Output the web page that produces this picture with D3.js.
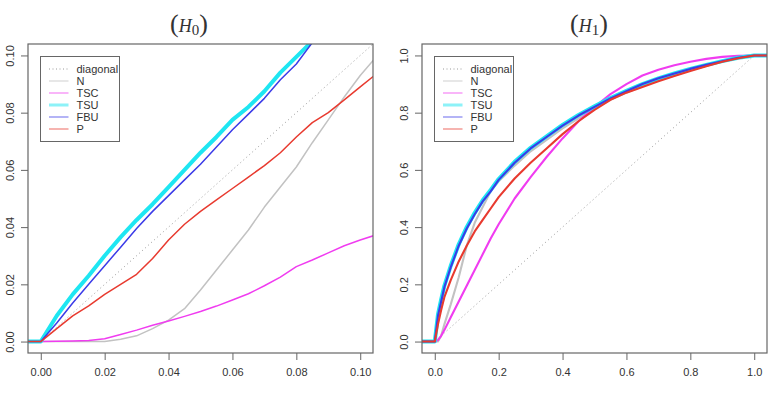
<!DOCTYPE html>
<html>
<head>
<meta charset="utf-8">
<script src="https://cdn.jsdelivr.net/npm/d3@7"></script>
<style>
  body { margin: 0; background: #fff; }
  svg text { font-family: "Liberation Sans", Arial, sans-serif; fill: #333; }
</style>
</head>
<body>
<svg id="chart" width="772" height="394"></svg>
<script>
// H0 panel
var h0Grid = [-0.01, 0, 0.005, 0.01, 0.015, 0.02, 0.025, 0.03, 0.035, 0.04, 0.045, 0.05, 0.055,
  0.06, 0.065, 0.07, 0.075, 0.08, 0.085, 0.09, 0.095, 0.1, 0.105];
var h0N = [0, 0, 0, 0, 0, 0, 0.0008, 0.002, 0.0045, 0.0075, 0.0115, 0.018, 0.025,
  0.032, 0.039, 0.047, 0.054, 0.061, 0.0695, 0.0775, 0.0855, 0.093, 0.0995];
var h0TSC = [0, 0, 0.0001, 0.0002, 0.0004, 0.001, 0.0025, 0.004, 0.0057, 0.0072, 0.0088, 0.0105, 0.0124,
  0.0145, 0.0167, 0.0195, 0.0225, 0.0262, 0.0285, 0.031, 0.0335, 0.0355, 0.0373];
var h0TSU = [0, 0, 0.009, 0.0165, 0.023, 0.030, 0.0365, 0.0425, 0.048, 0.054, 0.060, 0.066, 0.0715,
  0.0775, 0.082, 0.0875, 0.094, 0.0995, 0.105, 0.111, null, null, null];
var h0FBU = [0, 0, 0.0065, 0.0135, 0.020, 0.0265, 0.033, 0.0395, 0.0455, 0.051, 0.0565, 0.062, 0.068,
  0.074, 0.0795, 0.085, 0.0915, 0.097, 0.1045, 0.11, null, null, null];
var h0P = [0, 0, 0.0045, 0.009, 0.0125, 0.0165, 0.020, 0.0235, 0.029, 0.0355, 0.041, 0.0455, 0.0495,
  0.0535, 0.0575, 0.0615, 0.066, 0.0715, 0.0765, 0.080, 0.0845, 0.089, 0.0935];

// H1 panel
var h1Grid = [-0.1, 0, 0.01, 0.02, 0.03, 0.05, 0.075, 0.1, 0.125, 0.15, 0.175, 0.2, 0.25, 0.3, 0.35,
  0.4, 0.45, 0.5, 0.55, 0.6, 0.65, 0.7, 0.75, 0.8, 0.85, 0.9, 0.95, 1.0, 1.1];
var h1N = [0, 0, 0, 0.02, 0.06, 0.13, 0.225, 0.335, 0.415, 0.47, 0.525, 0.56, 0.615, 0.665, 0.705,
  0.745, 0.78, 0.815, 0.845, 0.87, 0.892, 0.912, 0.93, 0.948, 0.964, 0.979, 0.991, 1.0, 1.0];
var h1TSC = [0, 0, 0.005, 0.02, 0.04, 0.085, 0.14, 0.195, 0.25, 0.305, 0.36, 0.41, 0.5, 0.575, 0.645,
  0.71, 0.77, 0.82, 0.865, 0.9, 0.93, 0.95, 0.966, 0.978, 0.988, 0.995, 0.999, 1.0, 1.0];
var h1TSU = [0, 0, 0.095, 0.147, 0.195, 0.265, 0.34, 0.4, 0.45, 0.494, 0.53, 0.568, 0.628, 0.677, 0.717,
  0.757, 0.792, 0.822, 0.851, 0.876, 0.9, 0.92, 0.937, 0.953, 0.967, 0.98, 0.992, 1.0, 1.0];
var h1FBU = [0, 0, 0.09, 0.14, 0.19, 0.26, 0.335, 0.395, 0.445, 0.49, 0.525, 0.565, 0.625, 0.675, 0.715,
  0.755, 0.79, 0.82, 0.85, 0.875, 0.9, 0.92, 0.937, 0.953, 0.967, 0.98, 0.992, 1.0, 1.0];
var h1P = [0, 0, 0.06, 0.11, 0.155, 0.215, 0.28, 0.335, 0.385, 0.425, 0.465, 0.505, 0.57, 0.625, 0.675,
  0.725, 0.77, 0.81, 0.845, 0.87, 0.89, 0.91, 0.928, 0.946, 0.962, 0.978, 0.99, 1.0, 1.0];

var diagX = [0, 1];
var diagY = [0, 1];

var seriesNames = ['N', 'TSC', 'TSU', 'FBU', 'P'];
var h0Ticks = [0, 0.02, 0.04, 0.06, 0.08, 0.1];
var h1Ticks = [0, 0.2, 0.4, 0.6, 0.8, 1.0];

// ---- styles ----
var seriesColors = { N: '#c2c2c2', TSC: '#f03cf0', TSU: '#1ee6f2', FBU: '#3b3be8', P: '#e83a2f' };
var seriesWidths = { N: 1.5, TSC: 1.5, TSU: 4, FBU: 1.5, P: 1.5 };

var svg = d3.select('#chart');

// R pads the axis range by 4% on both sides
function rExpand(lim) {
  var d = (lim[1] - lim[0]) * 0.04;
  return [lim[0] - d, lim[1] + d];
}

function drawPanel(cfg) {
  var g = svg.append('g').attr('transform', 'translate(' + cfg.left + ',' + cfg.top + ')');

  var x = d3.scaleLinear().domain(rExpand(cfg.lim)).range([0, cfg.width]);
  var y = d3.scaleLinear().domain(rExpand(cfg.lim)).range([cfg.height, 0]);

  var clipId = 'clip-' + cfg.id;
  g.append('clipPath').attr('id', clipId)
    .append('rect').attr('width', cfg.width).attr('height', cfg.height);

  var plot = g.append('g').attr('clip-path', 'url(#' + clipId + ')');

  // diagonal
  plot.append('path')
    .datum(d3.zip(diagX, diagY))
    .attr('d', d3.line().x(function (d) { return x(d[0]); }).y(function (d) { return y(d[1]); }))
    .attr('fill', 'none')
    .attr('stroke', '#9a9a9a')
    .attr('stroke-width', 1)
    .attr('stroke-dasharray', '1,3');

  var line = d3.line()
    .defined(function (d) { return d[1] != null; })
    .x(function (d) { return x(d[0]); })
    .y(function (d) { return y(d[1]); });

  seriesNames.forEach(function (name) {
    plot.append('path')
      .datum(d3.zip(cfg.grid, cfg.series[name]))
      .attr('d', line)
      .attr('fill', 'none')
      .attr('stroke', seriesColors[name])
      .attr('stroke-width', seriesWidths[name] + (cfg.id === 'h1' && name !== 'TSU' ? 0.6 : 0))
      .attr('stroke-linejoin', 'round');
  });

  // axes (R style: ticks outside, rotated y labels)
  var xAxis = g.append('g')
    .attr('transform', 'translate(0,' + cfg.height + ')')
    .call(d3.axisBottom(x).tickValues(cfg.ticks).tickFormat(d3.format(cfg.fmt))
      .tickSize(7).tickPadding(8));
  var yAxis = g.append('g')
    .call(d3.axisLeft(y).tickValues(cfg.ticks).tickFormat(d3.format(cfg.fmt)).tickSize(7));

  [xAxis, yAxis].forEach(function (a) {
    a.select('.domain').remove();
    a.selectAll('line').attr('stroke', '#666');
    a.selectAll('text').style('font-size', '11px').attr('fill', '#333');
  });
  yAxis.selectAll('text')
    .attr('transform', 'rotate(-90)')
    .attr('x', 0).attr('y', -14).attr('dy', 0)
    .attr('text-anchor', 'middle');

  // frame
  g.append('rect')
    .attr('width', cfg.width).attr('height', cfg.height)
    .attr('fill', 'none').attr('stroke', '#666').attr('stroke-width', 1.2);

  // title like (H_0)
  var t = svg.append('text')
    .attr('x', cfg.titleX).attr('y', 32)
    .attr('text-anchor', 'middle')
    .style('font-family', '"Liberation Serif", "Times New Roman", serif')
    .attr('fill', '#111');
  t.append('tspan').style('font-size', '26px').text('(');
  t.append('tspan').style('font-size', '18px').style('font-style', 'italic').text('H');
  t.append('tspan').style('font-size', '15px').attr('dy', 2.5).text(cfg.sub);
  t.append('tspan').style('font-size', '26px').attr('dy', -2.5).text(')');

  // legend
  var lg = g.append('g').attr('transform', 'translate(12.5,12.5)');
  lg.append('rect')
    .attr('width', 79).attr('height', 85)
    .attr('fill', '#fff').attr('stroke', '#666').attr('stroke-width', 1);

  var items = ['diagonal'].concat(seriesNames);
  items.forEach(function (name, i) {
    var yy = 12.5 + i * 12;
    var ln = lg.append('line')
      .attr('x1', 8.5).attr('x2', 28)
      .attr('y1', yy).attr('y2', yy);
    if (name === 'diagonal') {
      ln.attr('stroke', '#9a9a9a').attr('stroke-width', 1).attr('stroke-dasharray', '1,2.5');
    } else {
      ln.attr('stroke', seriesColors[name])
        .attr('stroke-width', name === 'TSU' ? 3 : 1.5)
        .attr('opacity', 0.5);
    }
    lg.append('text')
      .attr('x', 36).attr('y', yy).attr('dy', '0.35em')
      .style('font-size', '11px')
      .text(name);
  });
}

drawPanel({
  id: 'h0', left: 28, top: 44, width: 345, height: 309,
  lim: [0, 0.1], ticks: h0Ticks, fmt: '.2f', titleX: 189, sub: '0',
  grid: h0Grid,
  series: { N: h0N, TSC: h0TSC, TSU: h0TSU, FBU: h0FBU, P: h0P }
});

drawPanel({
  id: 'h1', left: 422, top: 44, width: 345, height: 309,
  lim: [0, 1], ticks: h1Ticks, fmt: '.1f', titleX: 589, sub: '1',
  grid: h1Grid,
  series: { N: h1N, TSC: h1TSC, TSU: h1TSU, FBU: h1FBU, P: h1P }
});
</script>
</body>
</html>
